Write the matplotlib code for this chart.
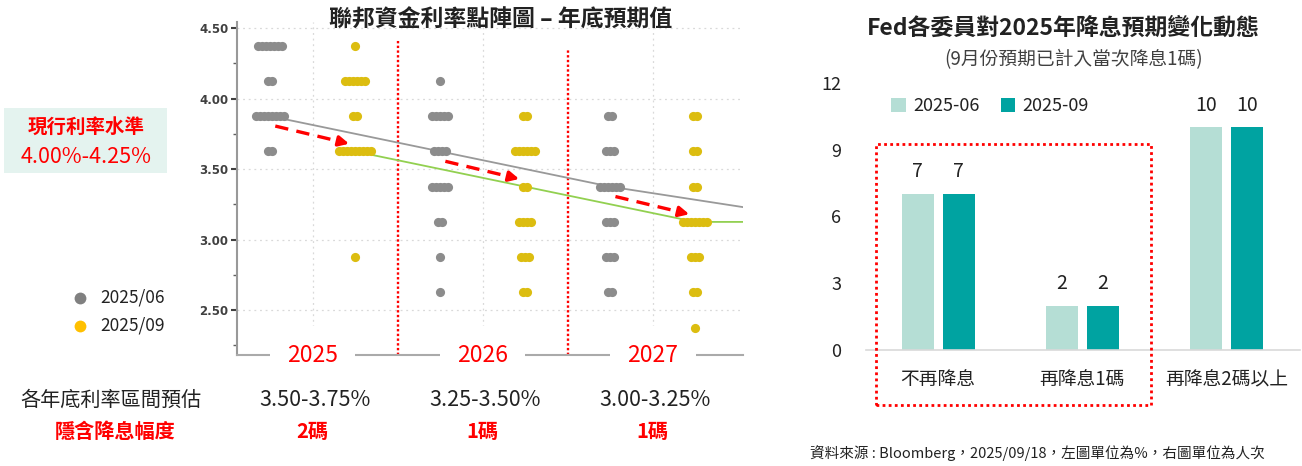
import numpy as np
import matplotlib
matplotlib.use('Agg')
import matplotlib.pyplot as plt
from matplotlib.patches import Rectangle
from matplotlib.lines import Line2D

plt.rcParams['font.family'] = ['Noto Sans CJK TC', 'DejaVu Sans']

# ---- left chart data: dot plot (counts of members per rate level)
rates = [4.375, 4.125, 3.875, 3.625, 3.375, 3.125, 2.875, 2.625, 2.375]
jun_2025 = [7, 2, 8, 2, 0, 0, 0, 0, 0]
sep_2025 = [1, 6, 2, 9, 0, 0, 1, 0, 0]
jun_2026 = [0, 1, 5, 4, 5, 2, 1, 1, 0]
sep_2026 = [0, 0, 2, 6, 2, 4, 3, 2, 0]
jun_2027 = [0, 0, 2, 3, 6, 3, 3, 2, 0]
sep_2027 = [0, 0, 2, 2, 2, 7, 3, 2, 1]
years = ['2025', '2026', '2027']
jun_median = [3.875, 3.625, 3.375]
sep_median = [3.625, 3.375, 3.125]
jun_line_end = 3.23
sep_line_end = 3.125
range_labels = ['3.50-3.75%', '3.25-3.50%', '3.00-3.25%']
cut_labels = ['2碼', '1碼', '1碼']

# ---- right chart data
categories = ['不再降息', '再降息1碼', '再降息2碼以上']
votes_jun = [7, 2, 10]
votes_sep = [7, 2, 10]

W, H = 1302, 466
fig = plt.figure(figsize=(W / 100, H / 100), dpi=100)


def fx(x):
    return x / W


def fy(y):
    return 1 - y / H


GRAY = '#8c8c8c'
GOLD = '#dcbd10'
RED = '#ff0000'

# ================= left dot plot
ax = fig.add_axes([fx(237), fy(355), fx(743) - fx(237), fy(22) - fy(355)])
ax.set_xlim(-0.39, 5.56)
ax.set_ylim(2.181, 4.543)

for v in [2.5, 3.0, 3.5, 4.0, 4.5]:
    ax.axhline(v, color='#d9d9d9', lw=0.9, ls=(0, (1.5, 3)), zorder=0)
for v in [0.5, 2.5, 4.5]:
    ax.axvline(v, color='#d9d9d9', lw=0.9, ls=(0, (1.5, 3)), zorder=0)

ax.plot([1.5, 1.5], [2.181, 4.42], color=RED, lw=1.7, ls=(0, (1, 1)), zorder=1)
ax.plot([3.5, 3.5], [2.181, 4.35], color=RED, lw=1.7, ls=(0, (1, 1)), zorder=1)

# median trend lines
jx = [0, 2, 4, 5.56]
ax.plot(jx, jun_median + [jun_line_end], color='#999999', lw=1.3, zorder=2)
sx = [1, 3, 5, 5.56]
ax.plot(sx, sep_median + [sep_line_end], color='#92d050', lw=1.3, zorder=2)

spacing = 0.047
series = [(0, jun_2025, GRAY), (1, sep_2025, GOLD), (2, jun_2026, GRAY),
          (3, sep_2026, GOLD), (4, jun_2027, GRAY), (5, sep_2027, GOLD)]
for xc, counts, col in series:
    for r, n in zip(rates, counts):
        if n == 0:
            continue
        offs = (np.arange(n) - (n - 1) / 2) * spacing
        ax.plot(xc + offs, [r] * n, 'o', color=col, ms=6.6, mec='none', zorder=6)

# red dashed arrows June median -> Sept median
for i in range(3):
    x0, y0 = 2 * i + 0.06, jun_median[i] - 0.07
    x1, y1 = 2 * i + 0.96, sep_median[i] + 0.05
    ax.plot([x0, x0 + (x1 - x0) * 0.88], [y0, y0 + (y1 - y0) * 0.88],
            color=RED, lw=2.4, ls=(0, (4, 2.5)), zorder=7)
    ax.annotate('', xy=(x1, y1), xytext=(x0 + (x1 - x0) * 0.8, y0 + (y1 - y0) * 0.8),
                arrowprops=dict(arrowstyle='-|>,head_length=0.6,head_width=0.3',
                                color=RED, lw=2.4), zorder=7)

ax.set_yticks([2.5, 3.0, 3.5, 4.0, 4.5])
ax.set_yticklabels(['2.50', '3.00', '3.50', '4.00', '4.50'],
                   fontfamily='DejaVu Sans', fontsize=8.5, color='#404040',
                   fontweight='bold')
ax.set_yticks([2.25, 2.75, 3.25, 3.75, 4.25], minor=True)
ax.tick_params(axis='y', which='major', length=4, width=1.5, color='#404040', pad=2)
ax.tick_params(axis='y', which='minor', length=3, width=1, color='#606060')
ax.set_xticks([])
for s in ['top', 'right']:
    ax.spines[s].set_visible(False)
ax.spines['left'].set_color('#999999')
ax.spines['left'].set_linewidth(1.5)
ax.spines['bottom'].set_color('#aaaaaa')
ax.spines['bottom'].set_linewidth(1.5)

for i, yr in enumerate(years):
    ax.text(2 * i + 0.5, 2.181, yr, ha='center', va='center', fontsize=16.5,
            color=RED, zorder=5,
            bbox=dict(boxstyle='square,pad=0.75', fc='white', ec='none'))

fig.text(fx(501), fy(20), '聯邦資金利率點陣圖 – 年底預期值', ha='center', va='center',
         fontsize=16.5, color='#222222', fontweight='bold')

# current rate box
fig.patches.append(Rectangle((fx(4), fy(173)), fx(167) - fx(4), fy(108) - fy(173),
                             transform=fig.transFigure, fc='#e4f3ef', ec='none'))
fig.text(fx(86), fy(127), '現行利率水準', ha='center', va='center', fontsize=14,
         color=RED, fontweight='bold')
fig.text(fx(86), fy(157), '4.00%-4.25%', ha='center', va='center', fontsize=15.5,
         color=RED)

# dot legend
fig.add_artist(Line2D([fx(80)], [fy(298)], marker='o', color='#808080', ms=8.5,
                      mec='none', transform=fig.transFigure))
fig.add_artist(Line2D([fx(80)], [fy(326)], marker='o', color='#ffc000', ms=8.5,
                      mec='none', transform=fig.transFigure))
fig.text(fx(100), fy(298), '2025/06', ha='left', va='center', fontsize=12.5, color='#222222')
fig.text(fx(100), fy(326), '2025/09', ha='left', va='center', fontsize=12.5, color='#222222')

# bottom table
fig.text(fx(111), fy(400), '各年底利率區間預估', ha='center', va='center', fontsize=14.5,
         color='#222222')
fig.text(fx(115), fy(432), '隱含降息幅度', ha='center', va='center', fontsize=14.5,
         color=RED, fontweight='bold')
for i in range(3):
    xp = fx(237) + (2 * i + 0.5 + 0.39) / 5.95 * (fx(743) - fx(237))
    fig.text(xp + fx(2), fy(400), range_labels[i], ha='center', va='center', fontsize=15.5,
             color='#222222')
    fig.text(xp, fy(432), cut_labels[i], ha='center', va='center', fontsize=14.5,
             color=RED, fontweight='bold')

# ================= right bar chart
LIGHT = '#b5ded5'
TEAL = '#00a3a1'
bx = fig.add_axes([fx(866), fy(350), fx(1300) - fx(866), fy(83) - fy(350)])
bx.set_xlim(-0.5, 2.51)
bx.set_ylim(0, 12)
xs = np.arange(len(categories))
bw = 0.222
off = 0.142
b1 = bx.bar(xs - off, votes_jun, bw, color=LIGHT, label='2025-06', zorder=2)
b2 = bx.bar(xs + off, votes_sep, bw, color=TEAL, label='2025-09', zorder=2)
for bars in (b1, b2):
    for r in bars:
        bx.text(r.get_x() + r.get_width() / 2, r.get_height() + 1.0, f'{int(r.get_height())}',
                ha='center', va='center', fontsize=14, color='#222222')
bx.set_yticks([0, 3, 6, 9, 12])
bx.tick_params(axis='y', length=0, labelsize=13, labelcolor='#222222', pad=18)
bx.set_xticks(xs)
bx.set_xticklabels(categories, fontsize=13.5, color='#222222')
bx.tick_params(axis='x', length=0, pad=14)
for s in ['top', 'right', 'left']:
    bx.spines[s].set_visible(False)
bx.spines['bottom'].set_color('#d9d9d9')
bx.spines['bottom'].set_linewidth(1.2)
bx.legend(loc='center', bbox_to_anchor=(0.286, 0.914), ncol=2, frameon=False,
          fontsize=13, handlelength=0.8, handleheight=0.8, columnspacing=1.2,
          handletextpad=0.4, labelcolor='#222222')
bx.add_patch(Rectangle((-0.43, -2.47), 1.909, 11.73, fill=False, ec=RED, lw=2,
                       ls=(0, (1, 1.2)), clip_on=False, zorder=5))

fig.text(fx(1063), fy(28), 'Fed各委員對2025年降息預期變化動態', ha='center', va='center',
         fontsize=16.5, color='#222222', fontweight='bold')
fig.text(fx(1074), fy(60), '(9月份預期已計入當次降息1碼)', ha='center', va='center',
         fontsize=13.5, color='#404040')
fig.text(fx(1265), fy(453), '資料來源 : Bloomberg，2025/09/18，左圖單位為%，右圖單位為人次',
         ha='right', va='center', fontsize=10.5, color='#222222')

fig.savefig('out.png', dpi=100)
